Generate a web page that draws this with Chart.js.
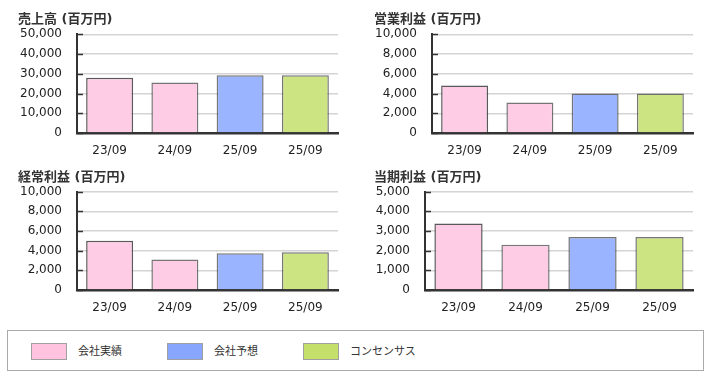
<!DOCTYPE html>
<html>
<head>
<meta charset="utf-8">
<script src="https://cdn.jsdelivr.net/npm/chart.js@4/dist/chart.umd.min.js"></script>
<style>
  html, body { margin: 0; padding: 0; background: #fff; width: 710px; height: 378px; overflow: hidden; }
  .box { position: absolute; }
  #legend { position: absolute; left: 7px; top: 330px; width: 695px; height: 39px; border: 1px solid #aaa; box-sizing: border-box; width: 697px; height: 41px; }
  .sw { position: absolute; top: 12px; width: 34px; height: 15px; border: 1px solid #a0a0a0; }
  .lt { position: absolute; top: 12px; font-family: "Noto Sans CJK JP", sans-serif; font-size: 11px; line-height: 15px; color: #333; }
</style>
</head>
<body>
<div class="box" style="left:0;top:0;"><canvas id="c1" width="355" height="165"></canvas></div>
<div class="box" style="left:355px;top:0;"><canvas id="c2" width="355" height="165"></canvas></div>
<div class="box" style="left:0;top:165px;"><canvas id="c3" width="355" height="157"></canvas></div>
<div class="box" style="left:355px;top:165px;"><canvas id="c4" width="355" height="157"></canvas></div>
<div id="legend">
  <div class="sw" style="left:23px;background:#ffc2df;"></div><div class="lt" style="left:70px;">会社実績</div>
  <div class="sw" style="left:159px;background:#89a6ff;"></div><div class="lt" style="left:206px;">会社予想</div>
  <div class="sw" style="left:295px;background:#c4e06b;"></div><div class="lt" style="left:342px;">コンセンサス</div>
</div>
<script>
const categories = ['23/09', '24/09', '25/09', '25/09'];
const sales = [28000, 25600, 29300, 29300];
const operatingProfit = [4800, 3100, 4000, 4000];
const ordinaryProfit = [5000, 3100, 3750, 3850];
const netProfit = [3380, 2300, 2700, 2700];
const titles = ['売上高 (百万円)', '営業利益 (百万円)', '経常利益 (百万円)', '当期利益 (百万円)'];
const yMax = [50000, 10000, 10000, 5000];
const yStep = [10000, 2000, 2000, 1000];

const barColors = ['#ffcce6', '#ffcce6', '#9bb4ff', '#cde482'];
const borderColors = ['rgba(60,60,60,0.85)', 'rgba(60,60,60,0.7)', 'rgba(60,60,60,0.7)', 'rgba(60,60,60,0.7)'];
const FONT = '"DejaVu Sans", "Noto Sans CJK JP", sans-serif';

const stubPlugin = {
  id: 'stubs',
  afterDatasetsDraw(chart) {
    const y = chart.scales.y, ctx = chart.ctx;
    ctx.save();
    ctx.strokeStyle = '#333';
    ctx.lineWidth = 1.5;
    y.ticks.forEach(t => {
      const py = Math.round(y.getPixelForValue(t.value)) + 0.5;
      ctx.beginPath();
      ctx.moveTo(y.right, py);
      ctx.lineTo(y.right + 6, py);
      ctx.stroke();
    });
    ctx.restore();
  }
};

function make(id, data, idx, cfg) {
  new Chart(document.getElementById(id), {
    type: 'bar',
    data: {
      labels: categories,
      datasets: [{
        data: data,
        backgroundColor: barColors,
        borderColor: borderColors,
        borderWidth: 1.5,
        barPercentage: 0.72,
        categoryPercentage: 1.0
      }]
    },
    options: {
      responsive: false,
      animation: false,
      locale: 'en-US',
      layout: { padding: { left: cfg.padL, right: 17, top: 0, bottom: 0 } },
      plugins: {
        legend: { display: false },
        tooltip: { enabled: false },
        title: {
          display: true,
          text: titles[idx],
          align: 'start',
          color: '#333',
          font: { family: FONT, size: 13, weight: 'bold' },
          padding: { top: cfg.tTop, bottom: cfg.tBot }
        }
      },
      scales: {
        x: {
          grid: { display: false, drawTicks: false },
          border: { display: true, color: '#333', width: 2.5 },
          ticks: { color: '#222', font: { family: FONT, size: 12 }, padding: 11, maxRotation: 0 },
          afterFit: s => { s.height = 32; }
        },
        y: {
          min: 0,
          max: yMax[idx],
          grid: { color: '#d4d4d4', lineWidth: 1.5, drawTicks: false },
          border: { display: true, color: '#333', width: 2 },
          ticks: { stepSize: yStep[idx], color: '#222', font: { family: FONT, size: 12 }, padding: 15 },
          afterFit: s => { s.width = cfg.yW; }
        }
      }
    },
    plugins: [stubPlugin]
  });
}

make('c1', sales, 0, { padL: 18, yW: 59, tTop: 12, tBot: 6.7 });
make('c2', operatingProfit, 1, { padL: 19, yW: 58, tTop: 12, tBot: 6.7 });
make('c3', ordinaryProfit, 2, { padL: 18, yW: 59, tTop: 5.2, tBot: 5.9 });
make('c4', netProfit, 3, { padL: 19, yW: 51, tTop: 5.2, tBot: 5.9 });
</script>
</body>
</html>
